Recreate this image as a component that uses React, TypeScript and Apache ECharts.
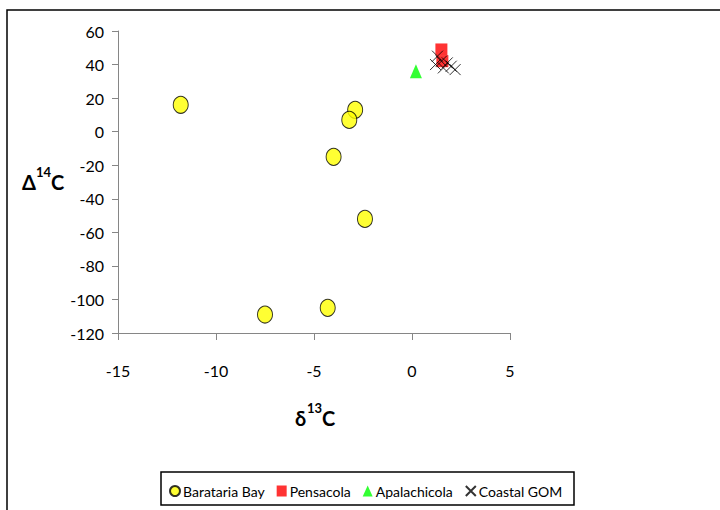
import React, { useEffect, useRef } from "react";
import * as echarts from "echarts";

const baratariaBay: number[][] = [
  [-11.8, 16], [-2.9, 13], [-3.2, 7], [-4.0, -15], [-2.4, -52], [-7.5, -109], [-4.3, -105],
];
const pensacola: number[][] = [[1.5, 49], [1.55, 42]];
const apalachicola: number[][] = [[0.2, 36]];
const coastalGOM: number[][] = [
  [1.3, 45], [1.5, 42], [1.8, 41], [2.0, 39], [2.2, 37], [1.2, 40], [1.6, 38],
];
const xTicks = { min: -15, max: 5, interval: 5 };
const yTicks = { min: -120, max: 60, interval: 20 };

const FONT = "Lato, 'Open Sans', sans-serif";
const X_PATH = "path://M0,0L10,10M10,0L0,10";

export default function App() {
  const ref = useRef<HTMLDivElement>(null);
  useEffect(() => {
    if (!ref.current) return;
    const chart = echarts.init(ref.current, null, { renderer: "svg" });
    const axisLine = { lineStyle: { color: "#868686", width: 1 } };
    chart.setOption({
      animation: false,
      backgroundColor: "#fff",
      textStyle: { fontFamily: FONT },
      grid: { left: 118, top: 31, right: 210, bottom: 177 },
      xAxis: {
        type: "value",
        min: xTicks.min,
        max: xTicks.max,
        interval: xTicks.interval,
        axisLine: { ...axisLine, onZero: false },
        axisTick: { show: true, inside: false, length: 7, lineStyle: { color: "#868686" } },
        axisLabel: { color: "#000", fontSize: 16, margin: 29, fontFamily: FONT },
        splitLine: { show: false },
      },
      yAxis: {
        type: "value",
        min: yTicks.min,
        max: yTicks.max,
        interval: yTicks.interval,
        axisLine: { ...axisLine, show: true, onZero: false },
        axisTick: { show: true, inside: false, length: 6, lineStyle: { color: "#868686" } },
        axisLabel: { color: "#000", fontSize: 16, margin: 14, fontFamily: FONT },
        splitLine: { show: false },
      },
      legend: {
        left: 164,
        top: 479,
        itemGap: 12,
        itemWidth: 10,
        itemHeight: 11,
        textStyle: { color: "#000", fontSize: 14, fontFamily: FONT, padding: [0, 0, 0, -2] },
        data: [
          { name: "Barataria Bay", icon: "circle" },
          { name: "Pensacola", icon: "rect" },
          { name: "Apalachicola", icon: "triangle" },
          { name: "Coastal GOM", icon: X_PATH },
        ],
      },
      graphic: [
        { type: "rect", shape: { x: 7, y: 10, width: 730, height: 520 }, style: { fill: "none", stroke: "#000", lineWidth: 1.5 }, silent: true },
        { type: "rect", shape: { x: 161, y: 472, width: 413, height: 33 }, style: { fill: "none", stroke: "#000", lineWidth: 1.5 }, silent: true },
        { type: "text", left: 22, top: 172, style: { text: "Δ", font: `bold 20px ${FONT}`, fill: "#000" } },
        { type: "text", left: 36, top: 165, style: { text: "14", font: `bold 13px ${FONT}`, fill: "#000" } },
        { type: "text", left: 51, top: 172, style: { text: "C", font: `bold 20px ${FONT}`, fill: "#000" } },
        { type: "text", left: 295, top: 408, style: { text: "δ", font: `bold 20px ${FONT}`, fill: "#000" } },
        { type: "text", left: 307, top: 401, style: { text: "13", font: `bold 13px ${FONT}`, fill: "#000" } },
        { type: "text", left: 322, top: 408, style: { text: "C", font: `bold 20px ${FONT}`, fill: "#000" } },
      ],
      series: [
        {
          name: "Barataria Bay",
          type: "scatter",
          data: baratariaBay,
          symbol: "circle",
          symbolSize: [15, 17],
          itemStyle: { color: "#ffff00", borderColor: "#000", borderWidth: 1 },
        },
        {
          name: "Pensacola",
          type: "scatter",
          data: pensacola,
          symbol: "rect",
          symbolSize: 12,
          itemStyle: { color: "#ff0000" },
        },
        {
          name: "Apalachicola",
          type: "scatter",
          data: apalachicola,
          symbol: "triangle",
          symbolSize: [12, 14],
          itemStyle: { color: "#00ff00" },
        },
        {
          name: "Coastal GOM",
          type: "scatter",
          data: coastalGOM,
          symbol: X_PATH,
          symbolSize: 11,
          itemStyle: { color: "rgba(0,0,0,0)", borderColor: "#000", borderWidth: 1 },
        },
      ],
    });
    return () => chart.dispose();
  }, []);
  return (
    <div
      ref={ref}
      style={{ position: "fixed", left: 0, top: 0, width: 720, height: 510 }}
    />
  );
}
